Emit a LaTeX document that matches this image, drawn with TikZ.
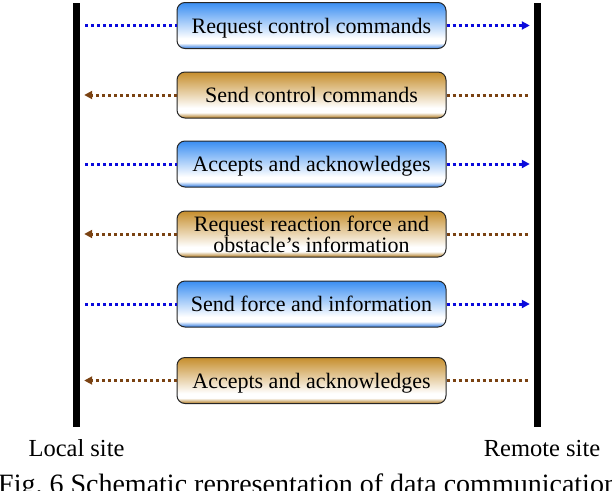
\documentclass[tikz,border=0pt]{standalone}
\usepackage{fontspec}
\setmainfont{Liberation Serif}
\usetikzlibrary{arrows.meta}
\definecolor{bxblue}{HTML}{3A8EF2}
\definecolor{bxbluedk}{HTML}{2C78E0}
\definecolor{bxbrown}{HTML}{C68E2C}
\definecolor{bxbrowndk}{HTML}{B07A1E}
\definecolor{lnblue}{HTML}{0A0ADC}
\definecolor{lnbrown}{HTML}{7A4212}
\pgfdeclareverticalshading{blueshade}{100bp}{color(0bp)=(bxbluedk); color(25bp)=(bxbluedk); color(31bp)=(white); color(36bp)=(white); color(75bp)=(bxblue); color(100bp)=(bxblue)}
\pgfdeclareverticalshading{brownshade}{100bp}{color(0bp)=(bxbrowndk); color(25bp)=(bxbrowndk); color(31bp)=(white); color(36bp)=(white); color(75bp)=(bxbrown); color(100bp)=(bxbrown)}
\begin{document}
\begin{tikzpicture}[x=1pt,y=-1pt,
  every node/.style={font=\fontsize{22}{20.5}\selectfont},
  msgbox/.style={draw=black!85, line width=1pt, rounded corners=8pt, minimum width=269pt, minimum height=46pt, inner sep=0pt, align=center, text depth=0pt},
  bluebox/.style={msgbox, shading=blueshade},
  brownbox/.style={msgbox, shading=brownshade},
  sitebar/.style={fill=black, draw=none, minimum width=7pt, minimum height=424pt, inner sep=0pt},
  bluedot/.style={draw=lnblue, line width=3pt, dash pattern=on 3pt off 3pt},
  browndot/.style={draw=lnbrown, line width=3pt, dash pattern=on 3pt off 3pt},
  tip/.style={-{Triangle[length=8pt,width=8pt]}},
  sitelabel/.style={anchor=base, font=\fontsize{24.5}{28}\selectfont},
]
\useasboundingbox (0,0) rectangle (612,490);
\clip (0,0) rectangle (612,490);
\node[sitebar] (L) at (76.5,215) {};
\node[sitebar] (R) at (537.5,215) {};
\node[bluebox]  (b1) at (311.5,25.5) {Request control commands};
\node[brownbox] (b2) at (311.5,95)   {Send control commands};
\node[bluebox]  (b3) at (311.5,164)  {Accepts and acknowledges};
\node[brownbox] (b4) at (311.5,234)  {Request reaction force and\\obstacle’s information};
\node[bluebox]  (b5) at (311.5,304)  {Send force and information};
\node[brownbox] (b6) at (311.5,380.5){Accepts and acknowledges};
\foreach \b in {b1,b3,b5}{
  \draw[bluedot] ([xshift=5pt]L.east |- \b.west) -- (\b.west);
  \draw[bluedot,tip] (\b.east) -- ([xshift=-4pt]R.west |- \b.east);
}
\foreach \b in {b2,b4,b6}{
  \draw[browndot,tip] (\b.west) -- ([xshift=4pt]L.east |- \b.west);
  \draw[browndot] (\b.east) -- ([xshift=-5pt]R.west |- \b.east);
}
\node[sitelabel] (ls) at (76.5,456.5) {Local site};
\node[sitelabel] (rs) at (542,456.5) {Remote site};
\node[anchor=base west, inner sep=0pt, font=\fontsize{28}{32}\selectfont] (cap) at (-2,493.5) {Fig.~6 Schematic representation of data communication};
\end{tikzpicture}
\end{document}
